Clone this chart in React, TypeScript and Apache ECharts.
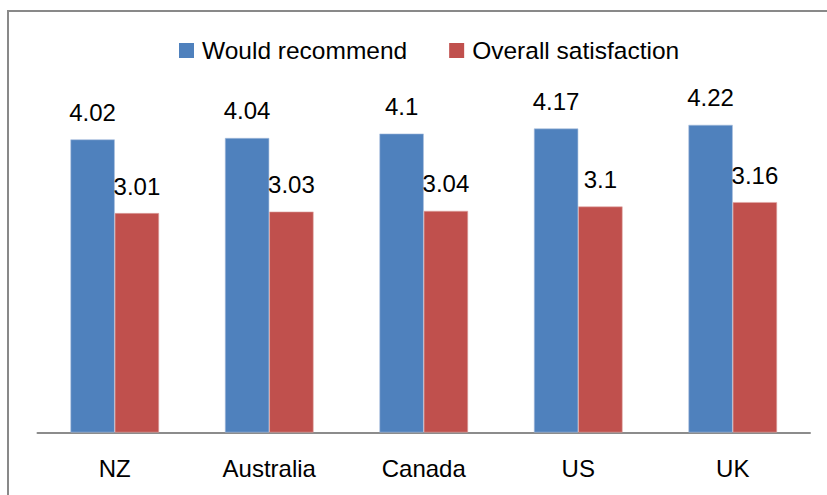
import React, { useEffect, useRef } from "react";
import * as echarts from "echarts";

const countries = ["NZ", "Australia", "Canada", "US", "UK"];
const wouldRecommend = [4.02, 4.04, 4.1, 4.17, 4.22];
const overallSatisfaction = [3.01, 3.03, 3.04, 3.1, 3.16];
const seriesNames = ["Would recommend", "Overall satisfaction"];

const FONT = "'Liberation Sans', Arial, sans-serif";

export default function App() {
  const ref = useRef<HTMLDivElement>(null);

  useEffect(() => {
    if (!ref.current) return;
    const chart = echarts.init(ref.current, null, { renderer: "svg" });
    const label = {
      show: true,
      position: "top",
      distance: 15,
      color: "#000",
      fontSize: 24,
      fontFamily: FONT,
    };
    chart.setOption({
      animation: false,
      backgroundColor: "#fff",
      textStyle: { fontFamily: FONT },
      graphic: [
        {
          type: "polyline",
          shape: { points: [[827, 11], [8, 11], [8, 495]] },
          style: { stroke: "#898989", lineWidth: 2, fill: "none" },
          silent: true,
        },
      ],
      legend: {
        left: 179,
        top: 38,
        padding: 0,
        itemWidth: 15,
        itemHeight: 15,
        itemGap: 42,
        icon: "rect",
        itemStyle: { borderWidth: 0 },
        textStyle: {
          fontSize: 24.5,
          color: "#000",
          fontFamily: FONT,
          padding: [0, 0, 0, 3],
        },
        data: seriesNames,
      },
      grid: { left: 37.5, right: 17, top: 68, bottom: 62.5 },
      xAxis: {
        type: "category",
        data: countries,
        axisLine: { show: true, lineStyle: { color: "#8c8c8c", width: 2 } },
        axisTick: { show: false },
        axisLabel: {
          color: "#000",
          fontSize: 24,
          fontFamily: FONT,
          margin: 24,
        },
      },
      yAxis: {
        type: "value",
        min: 0,
        max: 5,
        show: false,
        splitLine: { show: false },
      },
      series: [
        {
          name: seriesNames[0],
          type: "bar",
          data: wouldRecommend,
          barWidth: 44.3,
          barGap: "0%",
          itemStyle: { color: "#4F81BD", borderColor: "#A9C0DE", borderWidth: 0.6 },
          label,
        },
        {
          name: seriesNames[1],
          type: "bar",
          data: overallSatisfaction,
          barWidth: 44.3,
          barGap: "0%",
          itemStyle: { color: "#C0504D", borderColor: "#DFA7A6", borderWidth: 0.6 },
          label,
        },
      ],
    });
    return () => chart.dispose();
  }, []);

  return (
    <div
      ref={ref}
      style={{ position: "fixed", left: 0, top: 0, width: 827, height: 495 }}
    />
  );
}
